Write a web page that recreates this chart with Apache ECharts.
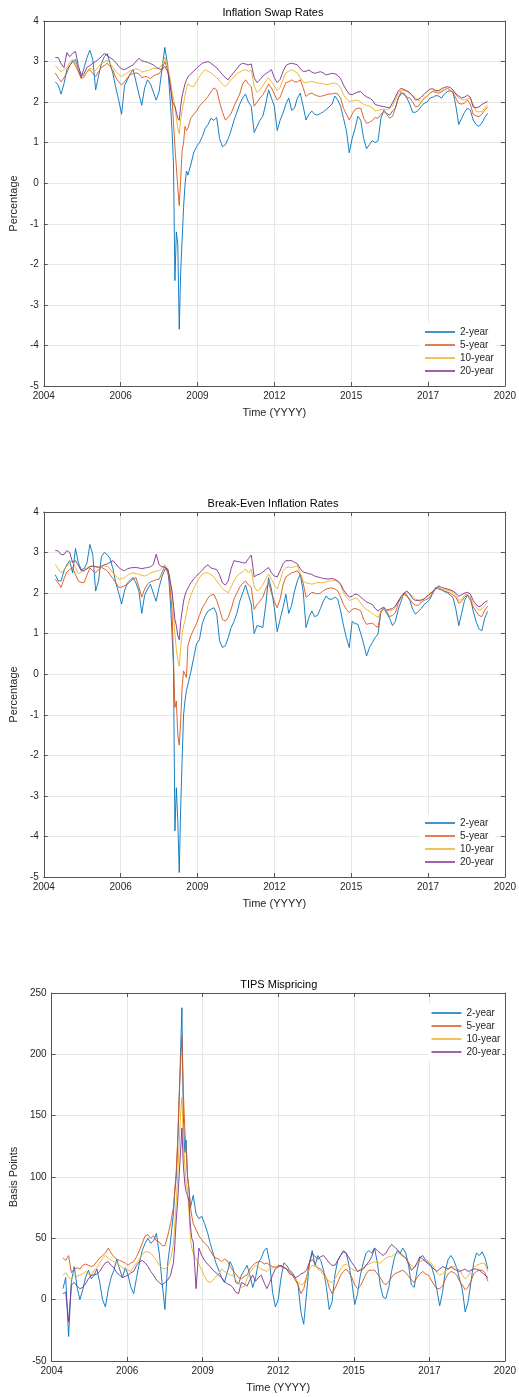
<!DOCTYPE html>
<html>
<head>
<meta charset="utf-8">
<script src="https://cdn.jsdelivr.net/npm/echarts@6/dist/echarts.min.js"></script>
<style>
html,body{margin:0;padding:0;background:#fff;}
#chart{width:519px;height:1397px;}
</style>
</head>
<body>
<div id="chart"></div>
<script>
// ---- sampling dates (decimal years) ----
const dates = [
 2004.4,2004.5,2004.6,2004.7,2004.8,2004.9,
 2005.0,2005.1,2005.2,2005.3,2005.4,2005.5,2005.6,2005.7,2005.8,2005.9,
 2006.0,2006.1,2006.2,2006.3,2006.4,2006.5,2006.6,2006.7,2006.8,2006.9,
 2007.0,2007.1,2007.2,2007.3,2007.4,2007.5,2007.6,2007.7,2007.8,2007.9,
 2008.0,2008.1,2008.2,2008.3,
 2008.35,2008.4,2008.45,2008.5,2008.55,2008.6,2008.65,2008.7,2008.75,2008.8,2008.85,2008.9,2008.95,2009.0,
 2009.1,2009.2,2009.3,2009.4,2009.5,2009.6,2009.7,2009.8,2009.9,
 2010.0,2010.1,2010.2,2010.3,2010.4,2010.5,2010.6,2010.7,2010.8,2010.9,
 2011.0,2011.1,2011.2,2011.3,2011.4,2011.5,2011.6,2011.7,2011.8,2011.9,
 2012.0,2012.1,2012.2,2012.3,2012.4,2012.5,2012.6,2012.7,2012.8,2012.9,
 2013.0,2013.1,2013.2,2013.3,2013.4,2013.5,2013.6,2013.7,2013.8,2013.9,
 2014.0,2014.1,2014.2,2014.3,2014.4,2014.5,2014.6,2014.7,2014.8,2014.9,
 2015.0,2015.1,2015.2,2015.3,2015.4,2015.5,2015.6,2015.7,2015.8,2015.9,
 2016.0,2016.1,2016.2,2016.3,2016.4,2016.5,2016.6,2016.7,2016.8,2016.9,
 2017.0,2017.1,2017.2,2017.3,2017.4,2017.5,2017.6,2017.7,2017.8,2017.9,
 2018.0,2018.1,2018.2,2018.3,2018.4,2018.5,2018.6,2018.7,2018.8,2018.9,
 2019.0,2019.1,2019.2,2019.3,2019.4
];
const xTickLabels = ['2004','2006','2009','2012','2015','2017','2020'];
const seriesNames = ['2-year','5-year','10-year','20-year'];

// ---- Inflation swap rates (%) ----
const swap2 = [
 2.5,2.42,2.2,2.45,2.8,2.9,
 3.0,3.05,2.8,2.6,2.85,3.1,3.28,3.05,2.3,2.65,
 2.95,3.12,3.2,2.95,2.7,2.35,2.05,1.7,2.4,2.55,
 2.7,2.8,2.5,2.2,1.92,2.35,2.55,2.45,2.25,2.05,
 2.25,2.8,3.35,2.9,
 2.4,1.9,1.3,0.5,-2.4,-1.2,-1.5,-3.6,-2.2,-1.4,-0.6,-0.05,0.3,0.2,
 0.45,0.75,0.9,1.0,1.15,1.35,1.45,1.6,1.55,
 1.62,1.1,0.9,0.95,1.1,1.3,1.55,1.75,1.95,2.1,
 2.2,2.0,1.9,1.25,1.4,1.55,1.65,1.95,2.3,2.1,
 1.9,1.3,1.55,1.73,1.95,2.1,1.8,1.85,2.1,2.22,
 1.9,1.56,1.7,1.78,1.7,1.68,1.72,1.76,1.82,1.88,
 1.95,2.15,2.05,1.9,1.6,1.3,0.75,1.1,1.35,1.65,
 1.55,1.1,0.85,0.95,1.05,1.0,1.05,1.6,1.8,1.72,
 1.68,1.78,1.85,2.1,2.2,2.22,2.1,1.95,1.75,1.75,
 1.8,1.9,1.97,2.0,2.1,2.12,2.16,2.15,2.1,2.2,
 2.26,2.28,2.25,1.9,1.45,1.6,1.75,1.85,1.8,1.56,
 1.45,1.4,1.48,1.62,1.72
];
const swap5 = [
 2.72,2.6,2.5,2.6,2.72,2.9,
 3.02,2.9,2.75,2.58,2.62,2.75,2.8,2.7,2.63,2.75,
 2.86,2.9,2.96,2.88,2.78,2.6,2.5,2.42,2.5,2.6,
 2.68,2.7,2.72,2.7,2.6,2.63,2.62,2.58,2.64,2.68,
 2.7,2.8,3.0,2.8,
 2.6,2.4,2.1,1.5,0.9,0.4,-0.1,-0.55,0.1,0.8,1.0,1.4,1.3,1.35,
 1.6,1.7,1.78,1.9,1.98,2.05,2.14,2.25,2.35,
 2.3,2.0,1.75,1.56,1.62,1.72,1.9,2.05,2.2,2.45,
 2.55,2.45,2.38,1.9,2.0,2.1,2.18,2.3,2.45,2.35,
 2.2,2.05,2.12,2.3,2.48,2.5,2.55,2.5,2.5,2.55,
 2.35,2.14,2.2,2.22,2.18,2.15,2.14,2.16,2.18,2.2,
 2.2,2.22,2.2,2.1,1.85,1.7,1.56,1.7,1.82,1.85,
 1.85,1.6,1.48,1.5,1.55,1.62,1.6,1.7,1.77,1.7,
 1.6,1.65,1.85,2.1,2.26,2.18,2.12,2.1,2.0,1.88,
 1.9,2.0,2.1,2.15,2.22,2.26,2.24,2.22,2.25,2.3,
 2.34,2.3,2.22,2.1,1.97,1.95,1.98,2.05,1.95,1.7,
 1.66,1.64,1.7,1.8,1.88
];
const swap10 = [
 2.9,2.82,2.75,2.8,2.85,2.98,
 3.06,2.95,2.82,2.7,2.64,2.75,2.84,2.8,2.78,2.88,
 2.95,2.98,3.04,2.95,2.86,2.75,2.68,2.63,2.68,2.72,
 2.78,2.8,2.82,2.8,2.74,2.76,2.78,2.8,2.84,2.82,
 2.84,2.92,3.1,2.88,
 2.7,2.5,2.25,2.1,1.9,1.6,1.35,1.22,1.56,1.8,1.97,2.15,2.35,2.45,
 2.4,2.38,2.5,2.63,2.72,2.8,2.76,2.72,2.66,
 2.6,2.52,2.44,2.38,2.46,2.55,2.62,2.7,2.74,2.78,
 2.8,2.76,2.78,2.4,2.24,2.3,2.4,2.52,2.6,2.5,
 2.4,2.28,2.36,2.55,2.72,2.76,2.8,2.76,2.72,2.6,
 2.5,2.47,2.5,2.51,2.49,2.47,2.47,2.45,2.43,2.44,
 2.46,2.47,2.44,2.35,2.18,2.08,2.02,2.02,2.04,2.05,
 2.0,1.94,1.92,1.9,1.86,1.78,1.8,1.81,1.83,1.81,
 1.84,1.9,2.05,2.22,2.3,2.28,2.26,2.22,2.16,2.1,
 2.04,2.02,2.08,2.14,2.22,2.28,2.3,2.27,2.28,2.31,
 2.34,2.3,2.26,2.18,2.1,2.06,2.05,2.08,2.1,1.95,
 1.78,1.76,1.77,1.85,1.93
];
const swap20 = [
 3.1,3.1,2.95,2.85,3.22,3.12,
 3.2,3.25,2.9,2.65,2.7,2.86,2.9,2.96,3.0,3.06,
 3.12,3.2,3.15,3.1,3.05,2.98,2.88,2.82,2.8,2.84,
 2.88,2.92,3.0,3.08,3.02,3.0,2.98,2.95,2.92,2.86,
 2.82,2.8,2.88,2.75,
 2.6,2.35,2.05,1.95,1.9,1.75,1.6,1.55,1.9,2.15,2.3,2.45,2.55,2.62,
 2.7,2.76,2.84,2.9,2.96,2.98,3.0,2.96,2.9,
 2.85,2.76,2.68,2.6,2.55,2.65,2.74,2.82,2.92,2.96,
 2.94,2.92,2.94,2.6,2.48,2.55,2.64,2.7,2.75,2.8,
 2.6,2.48,2.56,2.75,2.9,2.94,2.96,2.94,2.92,2.82,
 2.76,2.76,2.79,2.74,2.71,2.73,2.75,2.72,2.67,2.69,
 2.71,2.7,2.66,2.58,2.42,2.3,2.2,2.18,2.22,2.25,
 2.26,2.18,2.13,2.1,2.05,1.94,1.92,1.9,1.89,1.87,
 1.86,1.98,2.12,2.28,2.34,2.31,2.28,2.23,2.15,2.05,
 2.07,2.12,2.2,2.26,2.32,2.33,2.28,2.28,2.33,2.36,
 2.38,2.36,2.3,2.2,2.15,2.1,2.12,2.17,2.12,1.88,
 1.86,1.88,1.94,1.98,2.01
];

// ---- Break-even inflation rates (%) ----
const be2 = [
 2.45,2.3,2.3,2.55,2.7,2.8,
 2.5,3.1,2.75,2.58,2.6,2.75,3.2,2.95,2.05,2.3,
 2.9,3.0,2.95,2.85,2.6,2.25,2.0,1.73,2.05,2.25,
 2.32,2.38,2.25,2.05,1.5,1.95,2.1,2.22,2.0,1.8,
 2.14,2.4,2.58,2.6,
 2.25,1.7,1.0,0.2,-3.86,-2.8,-3.6,-4.89,-3.3,-2.1,-1.0,-0.66,-0.4,-0.25,
 0.05,0.4,0.75,0.85,1.25,1.44,1.56,1.6,1.64,
 1.5,0.82,0.66,0.7,0.9,1.15,1.3,1.5,1.8,2.0,
 2.2,1.95,1.73,1.0,1.2,1.18,1.15,1.7,2.38,2.1,
 1.64,1.05,1.35,1.64,1.97,1.5,1.7,2.05,2.3,2.47,
 2.05,1.15,1.4,1.56,1.42,1.45,1.62,1.8,1.93,1.85,
 1.85,1.9,1.85,1.56,1.2,0.9,0.66,1.3,1.25,1.23,
 1.0,0.75,0.45,0.65,0.78,0.9,1.0,1.56,1.64,1.5,
 1.38,1.2,1.3,1.6,1.8,2.0,1.95,1.82,1.6,1.48,
 1.55,1.62,1.72,1.78,1.85,2.0,2.14,2.1,2.08,2.04,
 2.01,1.95,1.89,1.6,1.2,1.5,1.82,1.95,1.9,1.56,
 1.3,1.12,1.07,1.38,1.55
];
const be5 = [
 2.34,2.25,2.14,2.35,2.52,2.58,
 2.63,2.45,2.3,2.26,2.26,2.45,2.62,2.55,2.5,2.58,
 2.63,2.6,2.55,2.45,2.36,2.25,2.14,2.15,2.18,2.22,
 2.28,2.35,2.38,2.15,1.9,2.1,2.22,2.28,2.3,2.33,
 2.34,2.5,2.66,2.5,
 2.38,2.0,1.56,0.4,-0.82,-0.66,-1.5,-1.75,-1.15,-0.33,0.08,0.1,-0.08,0.7,
 0.95,1.1,1.25,1.45,1.64,1.75,1.88,1.95,1.97,
 1.82,1.6,1.35,1.31,1.4,1.6,1.85,2.0,2.15,2.24,
 2.3,2.2,2.14,1.6,1.72,1.8,1.9,2.1,2.26,2.0,
 1.8,1.64,1.85,2.2,2.4,2.45,2.5,2.52,2.55,2.45,
 2.25,1.9,1.95,2.02,2.0,1.98,2.0,2.06,2.1,2.12,
 2.13,2.1,2.06,1.9,1.72,1.6,1.52,1.6,1.62,1.6,
 1.56,1.35,1.23,1.25,1.26,1.2,1.15,1.55,1.6,1.55,
 1.42,1.45,1.52,1.75,1.9,1.97,1.92,1.85,1.75,1.7,
 1.7,1.78,1.82,1.85,1.9,2.02,2.12,2.14,2.08,2.05,
 2.03,2.0,1.95,1.9,1.75,1.8,1.9,1.95,1.82,1.66,
 1.55,1.45,1.42,1.58,1.68
];
const be10 = [
 2.71,2.6,2.5,2.58,2.66,2.75,
 2.8,2.62,2.48,2.52,2.58,2.62,2.66,2.67,2.65,2.66,
 2.67,2.67,2.66,2.6,2.5,2.42,2.34,2.36,2.38,2.44,
 2.48,2.5,2.48,2.46,2.44,2.42,2.45,2.5,2.52,2.54,
 2.55,2.62,2.7,2.6,
 2.45,2.2,1.97,1.5,0.99,0.6,0.35,0.2,0.66,1.0,1.2,1.31,1.5,1.7,
 1.95,2.1,2.25,2.38,2.47,2.5,2.5,2.45,2.4,
 2.3,2.2,2.12,2.05,2.01,2.15,2.3,2.42,2.48,2.52,
 2.6,2.5,2.59,2.15,2.05,2.1,2.2,2.35,2.47,2.35,
 2.2,2.1,2.3,2.55,2.63,2.64,2.63,2.65,2.67,2.5,
 2.3,2.25,2.24,2.22,2.24,2.26,2.26,2.26,2.28,2.3,
 2.3,2.31,2.3,2.2,2.02,1.9,1.82,1.84,1.88,1.85,
 1.75,1.65,1.6,1.55,1.5,1.45,1.4,1.55,1.6,1.57,
 1.56,1.58,1.65,1.8,1.88,1.96,2.01,1.98,1.92,1.86,
 1.82,1.8,1.86,1.93,2.0,2.05,2.1,2.15,2.1,2.08,
 2.08,2.05,2.01,1.95,1.82,1.85,1.95,1.98,1.9,1.74,
 1.65,1.58,1.6,1.7,1.77
];
const be20 = [
 3.05,3.04,2.95,2.95,3.05,3.0,
 2.75,2.8,2.68,2.55,2.55,2.6,2.65,2.67,2.65,2.63,
 2.66,2.7,2.72,2.76,2.8,2.72,2.63,2.58,2.55,2.6,
 2.62,2.63,2.63,2.62,2.6,2.62,2.63,2.65,2.7,2.96,
 2.7,2.65,2.64,2.58,
 2.45,2.25,2.05,1.7,1.35,1.2,0.95,0.85,1.3,1.55,1.8,1.95,2.05,2.12,
 2.25,2.35,2.42,2.5,2.56,2.65,2.7,2.62,2.6,
 2.58,2.45,2.25,2.2,2.3,2.6,2.8,2.78,2.77,2.75,
 2.74,2.85,2.94,2.4,2.45,2.47,2.52,2.58,2.63,2.5,
 2.42,2.4,2.55,2.72,2.8,2.8,2.8,2.76,2.72,2.6,
 2.52,2.5,2.48,2.46,2.42,2.4,2.38,2.36,2.35,2.35,
 2.36,2.34,2.3,2.22,2.08,1.98,1.9,1.92,1.98,1.96,
 1.9,1.84,1.78,1.75,1.72,1.62,1.56,1.62,1.65,1.58,
 1.6,1.62,1.68,1.8,1.92,2.0,2.05,1.98,1.86,1.82,
 1.82,1.83,1.86,1.92,1.98,2.04,2.1,2.18,2.14,2.12,
 2.1,2.08,2.05,2.0,1.92,1.96,2.0,2.02,1.98,1.82,
 1.72,1.66,1.7,1.78,1.81
];

// ---- TIPS mispricing (basis points) ----
const tips2 = [
 9,18,-30,15,27,10,
 0,8,18,24,17,20,25,14,0,-6,
 8,18,24,33,25,18,26,20,10,5,
 18,30,40,46,50,46,48,54,38,14,
 -8,30,48,70,
 88,100,125,160,200,238,150,120,130,100,90,75,80,85,
 70,66,68,62,55,46,38,30,24,
 18,14,22,31,26,14,13,20,24,28,
 20,10,18,30,34,40,42,30,6,-6,
 0,18,30,28,24,22,18,12,-10,-20,
 5,30,40,28,36,32,24,10,-8,-2,
 20,32,36,40,38,28,14,-4,5,20,
 30,38,40,38,42,30,12,2,1,10,
 23,34,40,38,42,38,28,12,10,24,
 34,36,32,30,28,20,8,-5,6,24,
 33,36,32,26,17,8,-10,-2,14,30,
 38,36,39,34,25
];
const tips5 = [
 34,32,36,22,25,26,
 25,28,29,28,27,28,31,34,36,38,
 42,38,35,33,32,31,30,28,30,31,
 35,40,46,52,53,50,52,48,47,44,
 44,52,62,75,
 90,105,130,165,190,215,170,140,120,100,90,76,68,62,
 57,52,49,46,44,40,36,34,33,
 31,33,32,27,24,21,18,17,19,20,
 25,28,30,31,31,29,30,28,27,26,
 28,27,26,25,23,20,16,12,5,9,
 18,30,33,29,26,25,22,18,10,5,
 9,14,20,23,25,22,18,12,9,11,
 16,21,24,24,24,21,18,14,12,15,
 18,21,22,23,24,22,19,16,14,18,
 21,23,21,20,16,12,9,9,11,17,
 21,23,22,20,15,12,8,10,15,21,
 23,24,24,22,15
];
const tips10 = [
 20,22,18,17,20,19,
 20,21,23,21,20,24,26,30,34,36,
 34,32,31,29,28,26,25,24,23,27,
 30,33,37,39,39,38,35,32,28,26,
 25,27,33,45,
 62,80,100,125,150,165,130,110,95,90,70,50,42,38,
 33,29,24,19,15,14,16,19,21,
 25,23,22,20,20,16,14,10,11,17,
 22,25,28,27,25,24,23,25,26,27,
 26,28,27,25,24,21,17,14,12,13,
 19,25,28,27,25,23,20,17,15,14,
 17,21,25,28,29,27,25,24,23,25,
 26,28,29,30,31,30,30,32,34,35,
 35,37,38,37,35,34,30,28,26,29,
 31,32,33,31,30,26,22,20,21,23,
 25,26,27,26,24,20,17,19,23,26,
 28,29,30,29,23
];
const tips20 = [
 5,6,-18,12,14,11,
 9,10,13,17,20,20,21,23,27,30,
 31,28,26,22,20,18,19,20,22,23,
 28,31,32,30,27,23,20,16,14,12,
 14,16,20,30,
 45,65,80,100,120,140,110,95,88,85,80,60,50,47,
 9,42,36,32,29,27,24,22,20,
 18,15,13,12,10,6,5,14,13,11,
 16,20,15,18,20,14,9,14,20,25,
 27,28,26,25,21,20,18,19,21,22,
 24,30,38,35,33,35,36,33,30,28,
 28,32,36,39,38,34,30,27,23,24,
 25,28,31,35,42,40,38,36,38,42,
 45,43,41,38,36,34,30,24,26,30,
 35,33,31,29,27,25,23,25,27,26,
 25,27,25,24,23,24,25,23,24,25,
 25,24,22,20,18
];

// ---------------- chart construction ----------------
const colors = ['#0072BD','#D95319','#EDB120','#7E2F8E'];
const FONT = 'Liberation Sans, Arial, Helvetica, sans-serif';
const toU = t => (t - 2004) * 6 / 16;   // one tick interval = 1 unit

const panels = [
  {title:'Inflation Swap Rates', yName:'Percentage', vals:[swap2,swap5,swap10,swap20],
   ymin:-5, ymax:4, yint:1, grid:{left:41, top:21, width:464, height:365},
   yGap:13, legend:{left:421, top:323}},
  {title:'Break-Even Inflation Rates', yName:'Percentage', vals:[be2,be5,be10,be20],
   ymin:-5, ymax:4, yint:1, grid:{left:41, top:512, width:464, height:365},
   yGap:13, legend:{left:421, top:814}},
  {title:'TIPS Mispricing', yName:'Basis Points', vals:[tips2,tips5,tips10,tips20],
   ymin:-50, ymax:250, yint:50, grid:{left:48.5, top:993, width:460.5, height:368},
   yGap:21, legend:{left:427.5, top:1004}}
];

const axisColor = '#555555';
const labelColor = '#262626';
const gridColor = '#e6e6e6';

const option = {
  animation:false,
  backgroundColor:'#ffffff',
  textStyle:{fontFamily:FONT},
  title:[], grid:[], xAxis:[], yAxis:[], series:[], legend:[]
};

panels.forEach((p, i) => {
  const g = p.grid;
  option.grid.push({left:g.left, top:g.top, width:g.width, height:g.height, containLabel:false});
  option.title.push({
    text:p.title, left:g.left + g.width/2, top:g.top - 14, textAlign:'center', padding:0,
    textStyle:{fontFamily:FONT, fontSize:11, fontWeight:'normal', color:'#000', lineHeight:11}
  });
  // bottom x axis
  option.xAxis.push({
    type:'value', gridIndex:i, min:0, max:6, interval:1, position:'bottom',
    name:'Time (YYYY)', nameLocation:'middle', nameGap:21,
    nameTextStyle:{fontFamily:FONT, fontSize:11, color:labelColor},
    axisLine:{show:true, onZero:false, lineStyle:{color:axisColor, width:1}},
    axisTick:{show:true, inside:true, length:4, lineStyle:{color:axisColor}},
    axisLabel:{fontFamily:FONT, fontSize:10, color:labelColor, margin:5,
      formatter:v => xTickLabels[Math.round(v)] || ''},
    splitLine:{show:true, lineStyle:{color:gridColor, width:1}}
  });
  // top x axis (box)
  option.xAxis.push({
    type:'value', gridIndex:i, min:0, max:6, interval:1, position:'top',
    axisLine:{show:true, onZero:false, lineStyle:{color:axisColor, width:1}},
    axisTick:{show:true, inside:true, length:4, lineStyle:{color:axisColor}},
    axisLabel:{show:false}, splitLine:{show:false}
  });
  // left y axis
  option.yAxis.push({
    type:'value', gridIndex:i, min:p.ymin, max:p.ymax, interval:p.yint, position:'left',
    name:p.yName, nameLocation:'middle', nameGap:p.yGap, nameRotate:90,
    nameTextStyle:{fontFamily:FONT, fontSize:11, color:labelColor},
    axisLine:{show:true, onZero:false, lineStyle:{color:axisColor, width:1}},
    axisTick:{show:true, inside:true, length:4, lineStyle:{color:axisColor}},
    axisLabel:{fontFamily:FONT, fontSize:10, color:labelColor, margin:5},
    splitLine:{show:true, lineStyle:{color:gridColor, width:1}}
  });
  // right y axis (box)
  option.yAxis.push({
    type:'value', gridIndex:i, min:p.ymin, max:p.ymax, interval:p.yint, position:'right',
    axisLine:{show:true, onZero:false, lineStyle:{color:axisColor, width:1}},
    axisTick:{show:true, inside:true, length:4, lineStyle:{color:axisColor}},
    axisLabel:{show:false}, splitLine:{show:false}
  });
  p.vals.forEach((arr, k) => {
    option.series.push({
      name:seriesNames[k], type:'line', xAxisIndex:2*i, yAxisIndex:2*i,
      data:dates.map((t, j) => [toU(t), arr[j]]),
      showSymbol:false, symbol:'none', clip:true,
      lineStyle:{color:colors[k], width:0.9},
      itemStyle:{color:colors[k]},
      emphasis:{disabled:true}, z:2 + k
    });
  });
  option.legend.push({
    data:seriesNames, orient:'vertical', left:p.legend.left, top:p.legend.top,
    icon:'rect', itemWidth:30, itemHeight:1.5, itemGap:1,
    padding:[3,2,3,4], backgroundColor:'#ffffff', selectedMode:false,
    textStyle:{fontFamily:FONT, fontSize:10, color:labelColor, lineHeight:12}
  });
});

const chart = echarts.init(document.getElementById('chart'), null, {renderer:'canvas'});
chart.setOption(option);
</script>
</body>
</html>
